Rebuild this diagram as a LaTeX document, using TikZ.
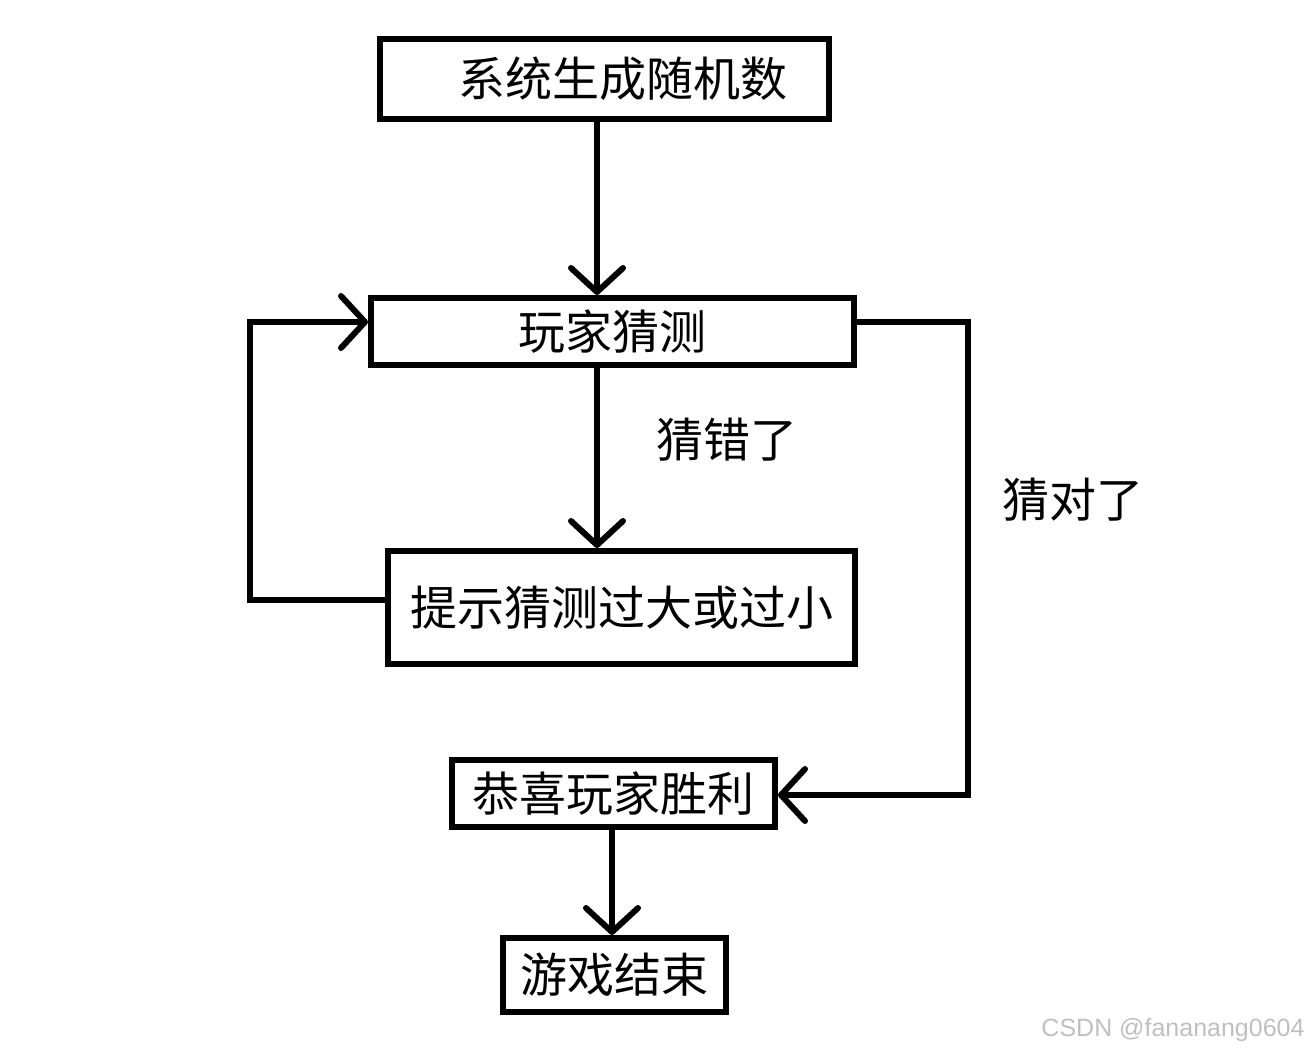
\documentclass[tikz,border=0pt]{standalone}
\usepackage{fontspec}
\newfontfamily\cjk{Noto Sans CJK SC}
\setsansfont{Liberation Sans}
\usetikzlibrary{arrows.meta}

\begin{document}
\begin{tikzpicture}[%
        x = 0.5pt,
        y = -0.5pt,
        > = {Straight Barb[length=12pt, width=26pt, round]},
        box/.style = {draw, line width = 3pt, inner sep = 0pt,
            font = \cjk\fontsize{23.5}{28}\selectfont},
        flow/.style = {->, line width = 3pt},
        lbl/.style = {font = \cjk\fontsize{23.5}{28}\selectfont}
    ]

        % Page frame.
        \useasboundingbox (0, 0) rectangle (1312, 1053);

        % Boxes.
        \node[box, minimum width = 224.5pt, minimum height = 40pt] (rand) at (604.5, 79) {\hspace{18pt}系统生成随机数};
        \node[box, minimum width = 241.5pt, minimum height = 33.5pt] (guess) at (612.5, 331.5) {玩家猜测};
        \node[box, minimum width = 233.5pt, minimum height = 56.5pt] (hint) at (621.5, 607.5) {提示猜测过大或过小};
        \node[box, minimum width = 161.5pt, minimum height = 33.5pt] (win) at (613.5, 793.5) {恭喜玩家胜利};
        \node[box, minimum width = 111.5pt, minimum height = 37pt] (over) at (614.5, 975) {游戏结束};

        % Straight flow.
        \draw[flow] (rand.south -| 597, 0) to (guess.north -| 597, 0);
        \draw[flow] (guess.south -| 597, 0) to (hint.north -| 597, 0);
        \draw[flow] (win.south -| 612, 0) to (over.north -| 612, 0);

        % Wrong guess: back to the player.
        \draw[flow] (hint.west |- 0, 600) -| (250, 322) to (guess.west |- 0, 322);

        % Right guess.
        \draw[flow] (guess.east |- 0, 322) -- (968, 322) |- (win.east |- 0, 795);

        % Labels.
        \node[lbl] (wrong) at (727, 440) {猜错了};
        \node[lbl] (right) at (1073, 500) {猜对了};

        % Watermark.
        \node[font = \sffamily\fontsize{12.5}{15}\selectfont, text = gray!50] (mark) at (1173, 1030) {CSDN @fananang0604};
    \end{tikzpicture}
\end{document}
